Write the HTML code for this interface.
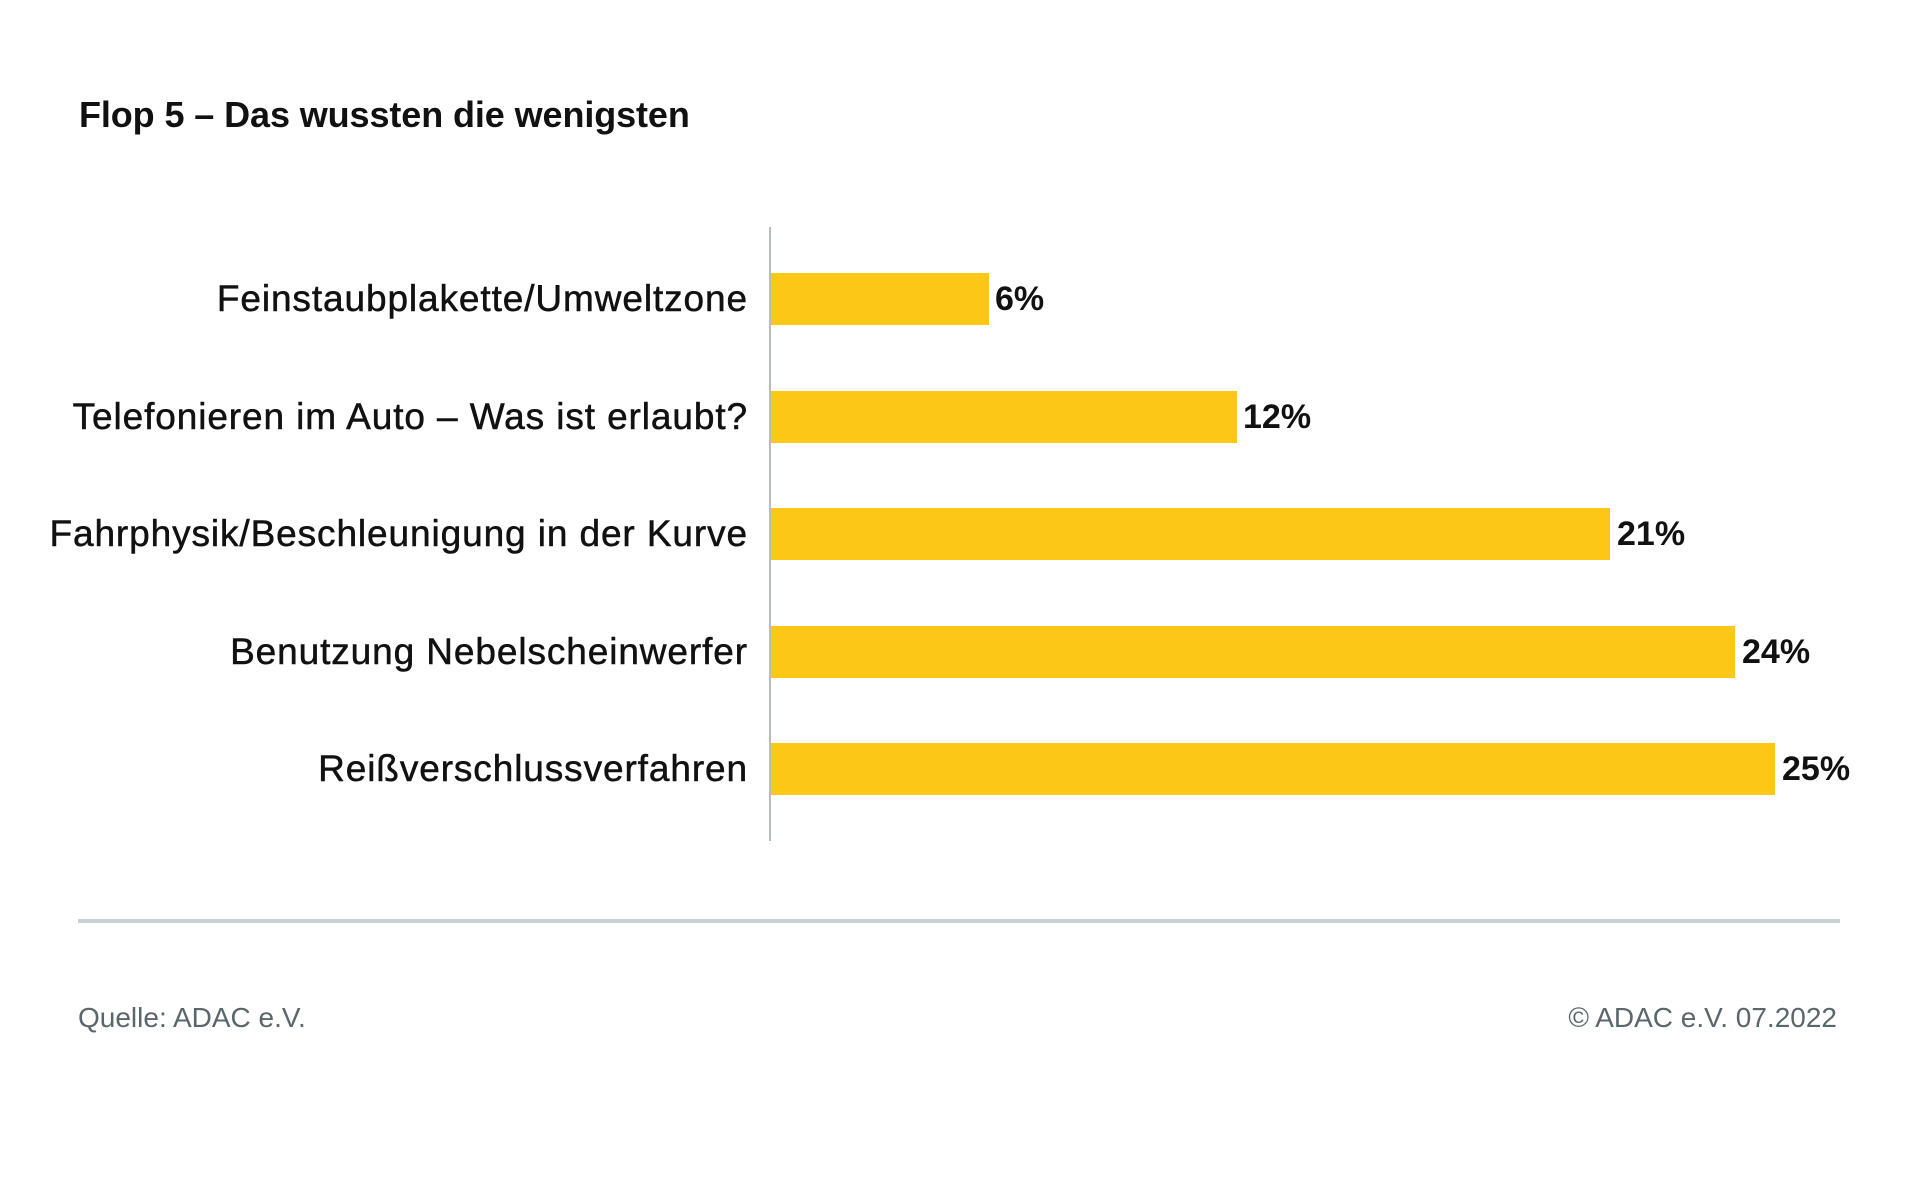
<!DOCTYPE html>
<html><head><meta charset="utf-8"><style>
body{margin:0;width:1920px;height:1200px;background:#fff;position:relative;overflow:hidden;font-family:"Liberation Sans",sans-serif;color:#111}
.t{position:absolute;left:79px;top:94px;font-size:36px;font-weight:bold;letter-spacing:-0.1px}
.ax{position:absolute;left:769px;top:227px;width:2px;height:614px;background:#b8bcbf}
.bar{position:absolute;left:771px;height:52px;background:#fdc717}
.lab{position:absolute;right:1172px;font-size:37px;line-height:52px;white-space:nowrap;text-align:right;letter-spacing:0.9px;-webkit-text-stroke:0.5px #111}
.v{position:absolute;font-size:34px;font-weight:bold;line-height:52px}
.rule{position:absolute;left:78px;top:919px;width:1762px;height:4px;background:#c9d1d5}
.f{position:absolute;top:1002px;font-size:28px;color:#5b666b}
</style></head><body>
<div class="t">Flop 5 – Das wussten die wenigsten</div>
<div class="ax"></div>
<div class="lab" style="top:273px">Feinstaubplakette/Umweltzone</div>
<div class="bar" style="top:273px;width:218px"></div><div class="v" style="top:273px;left:995px">6%</div>
<div class="lab" style="top:391px">Telefonieren im Auto – Was ist erlaubt?</div>
<div class="bar" style="top:391px;width:466px"></div><div class="v" style="top:391px;left:1243px">12%</div>
<div class="lab" style="top:508px">Fahrphysik/Beschleunigung in der Kurve</div>
<div class="bar" style="top:508px;width:839px"></div><div class="v" style="top:508px;left:1617px">21%</div>
<div class="lab" style="top:626px">Benutzung Nebelscheinwerfer</div>
<div class="bar" style="top:626px;width:964px"></div><div class="v" style="top:626px;left:1742px">24%</div>
<div class="lab" style="top:743px">Reißverschlussverfahren</div>
<div class="bar" style="top:743px;width:1004px"></div><div class="v" style="top:743px;left:1782px">25%</div>
<div class="rule"></div>
<div class="f" style="left:78px">Quelle: ADAC e.V.</div>
<div class="f" style="right:83px">© ADAC e.V. 07.2022</div>
</body></html>
